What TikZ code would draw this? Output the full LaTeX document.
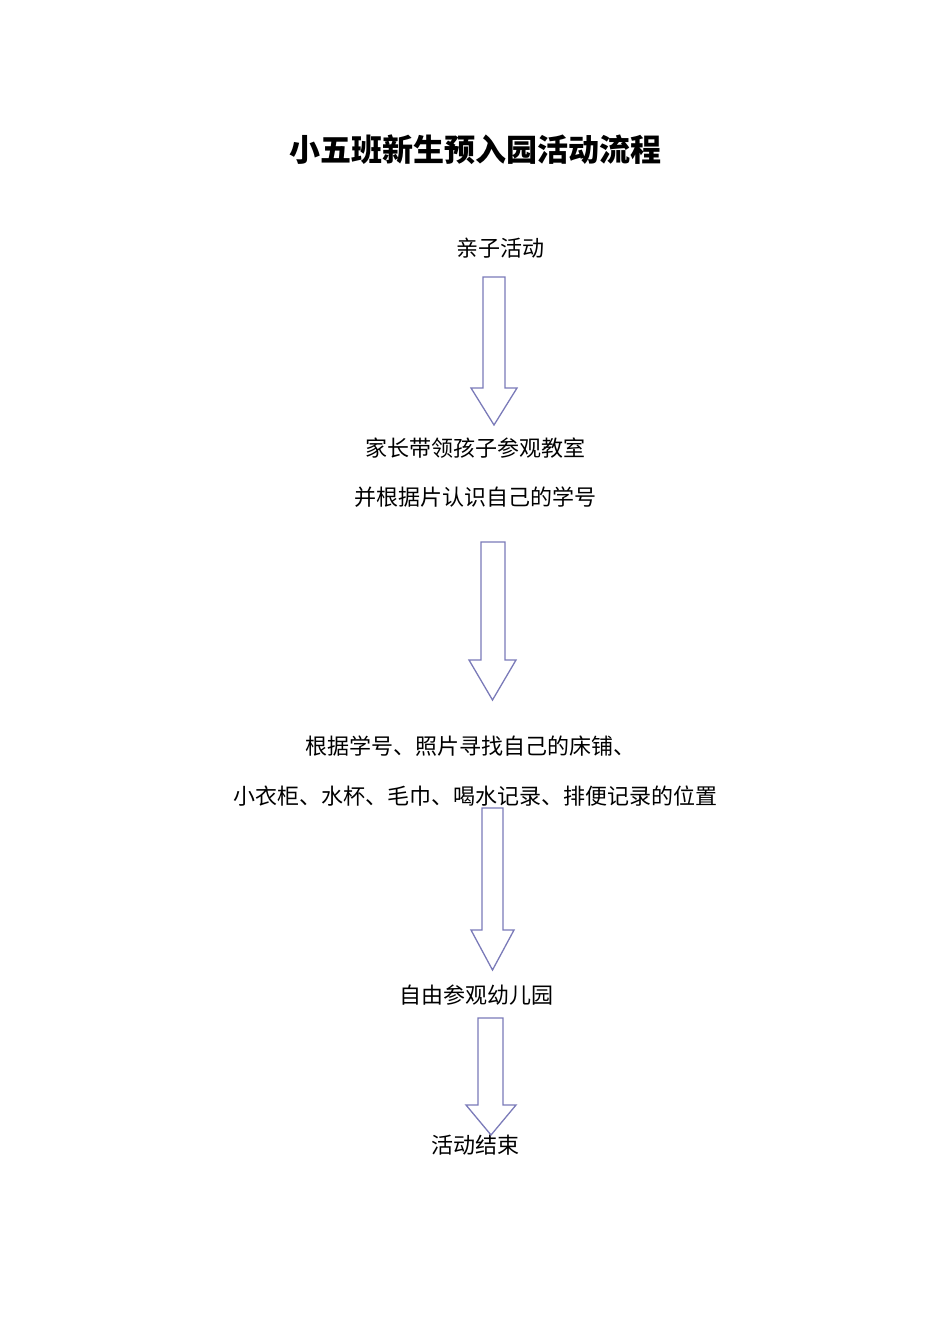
\documentclass[tikz,border=0pt]{standalone}
\usepackage{fontspec}
\newfontfamily\cjk{Noto Sans CJK SC}
\newcommand\blkarrow[6]{% xl xr top headtop headl headr tip(y)
\draw[arr] (#1,#3) -- (#1,#4) -- (#5,#4) -- ({(#1+#2)/2},#6) -- (#5+#2-#1+#1-#1,#4) ;}
\begin{document}
\begin{tikzpicture}[x=1pt,y=-1pt,
 txt/.style={font=\cjk\fontsize{22}{24}\selectfont,inner sep=0pt},
 arr/.style={draw=blue!30!gray!80,line width=1.3pt,line join=miter}]
\useasboundingbox (0,0) rectangle (950,1344);
\node[font=\cjk\bfseries\fontsize{31}{34}\selectfont,inner sep=0pt] (title) at (475,150) {小五班新生预入园活动流程};
\node[txt] (a) at (500,248) {亲子活动};
\node[txt] (b1) at (475,448) {家长带领孩子参观教室};
\node[txt] (b2) at (475,497) {并根据片认识自己的学号};
\node[txt] (c1) at (470,746) {根据学号、照片寻找自己的床铺、};
\node[txt] (c2) at (475,796) {小衣柜、水杯、毛巾、喝水记录、排便记录的位置};
\node[txt] (d) at (476,995) {自由参观幼儿园};
\node[txt] (e) at (475,1145) {活动结束};
\foreach \xl/\xr/\t/\h/\hl/\hr/\tip in {483/505/277/388/471/517/425, 481/505/542/660/469/516/700, 482/503/808/930/471/514/970, 478/503/1018/1105/466/516/1135}{
 \draw[arr] (\xl,\t) -- (\xl,\h) -- (\hl,\h) -- ({(\hl+\hr)/2},\tip) -- (\hr,\h) -- (\xr,\h) -- (\xr,\t) -- cycle;
}
\end{tikzpicture}
\end{document}
